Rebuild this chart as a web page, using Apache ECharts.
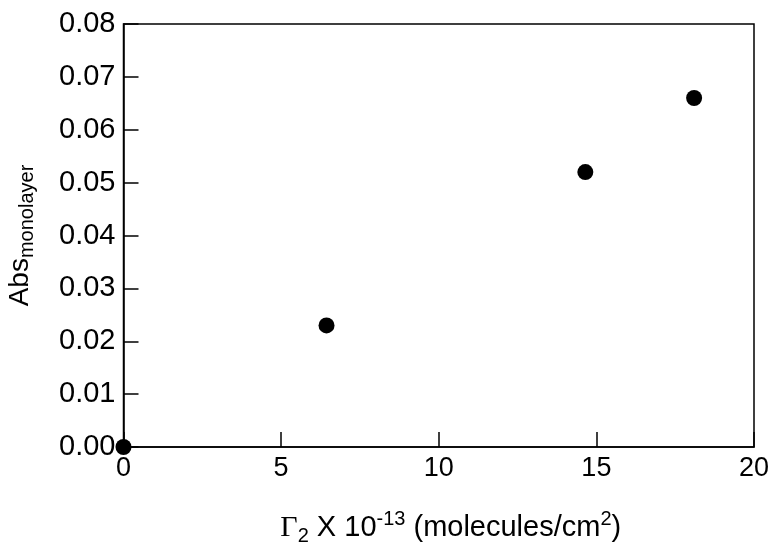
<!DOCTYPE html>
<html><head><meta charset="utf-8">
<script src="https://cdn.jsdelivr.net/npm/echarts@6/dist/echarts.min.js"></script>
<style>html,body{margin:0;padding:0;background:#fff}#c{width:776px;height:550px}</style>
</head><body><div id="c"></div>
<script>
var xValues = [0, 6.44, 14.65, 18.1];
var yValues = [0, 0.023, 0.052, 0.066];
var xTicks = [0, 5, 10, 15, 20];
var yTicks = ['0.00','0.01','0.02','0.03','0.04','0.05','0.06','0.07','0.08'];

var pts = xValues.map(function(x, i){ return [x, yValues[i]]; });
var F = 'Liberation Sans';
var chart = echarts.init(document.getElementById('c'));
chart.setOption({
  animation: false,
  grid: {left: 123.5, top: 24, right: 22, bottom: 103, containLabel: false, outerBoundsMode: 'none',
    show: true, borderColor: '#000', borderWidth: 1.5, backgroundColor: 'transparent'},
  xAxis: {
    type: 'value', min: 0, max: 20, interval: 5,
    axisLine: {show: true, onZero: false, lineStyle: {color: '#000', width: 1.5}},
    axisTick: {show: true, inside: true, length: 15, lineStyle: {color: '#000', width: 1.5}},
    splitLine: {show: false},
    axisLabel: {color: '#000', fontFamily: F, fontSize: 27, margin: 8,
      formatter: function(v){ return String(xTicks[Math.round(v/5)]); }},
    nameLocation: 'middle', nameGap: 62,
    name: '{g|Γ}{sub|2}{n| X 10}{sup|-13}{n| (molecules/cm}{sup|2}{n|)}',
    nameTextStyle: {
      padding: [0, 0, 0, 24],
      rich: {
        g: {fontFamily: 'Liberation Serif', fontSize: 30, color: '#000'},
        n: {fontFamily: F, fontSize: 29, color: '#000'},
        sub: {fontFamily: F, fontSize: 20, color: '#000', padding: [16, 0, 0, 0]},
        sup: {fontFamily: F, fontSize: 20, color: '#000', padding: [0, 0, 18, 0]}
      }
    }
  },
  yAxis: {
    type: 'value', min: 0, max: 0.08, interval: 0.01,
    axisLine: {show: true, onZero: false, lineStyle: {color: '#000', width: 1.5}},
    axisTick: {show: true, inside: true, length: 15, lineStyle: {color: '#000', width: 1.5}},
    splitLine: {show: false},
    axisLabel: {color: '#000', fontFamily: F, fontSize: 29, margin: 8,
      formatter: function(v){ return yTicks[Math.round(v*100)]; }},
    nameLocation: 'middle', nameGap: 86, nameRotate: 90,
    name: '{n|Abs}{sub|monolayer}',
    nameTextStyle: {
      rich: {
        n: {fontFamily: F, fontSize: 28, color: '#000'},
        sub: {fontFamily: F, fontSize: 20, color: '#000', padding: [14, 0, 0, 0]}
      }
    }
  },
  series: [{
    type: 'scatter', data: pts, symbol: 'circle', symbolSize: 16,
    itemStyle: {color: '#000', opacity: 1}, clip: false
  }]
});
</script></body></html>
